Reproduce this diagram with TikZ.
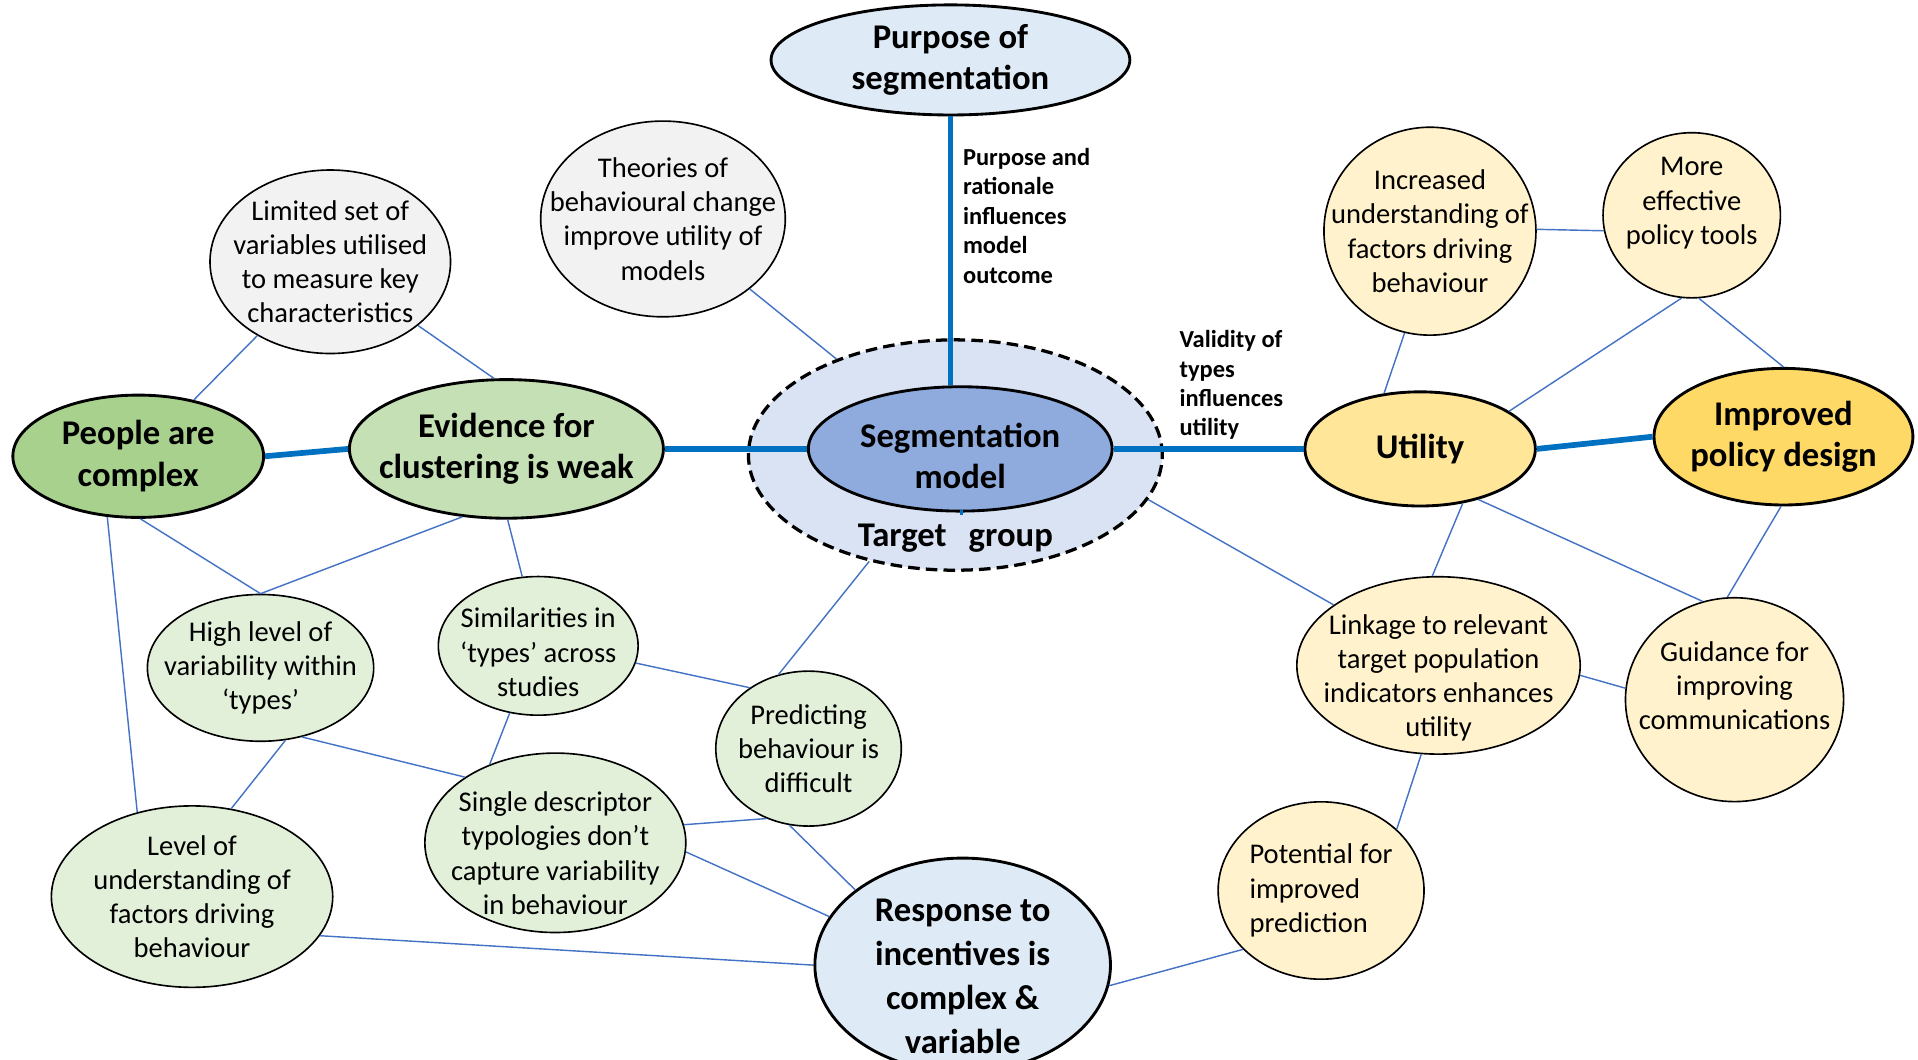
\documentclass[tikz,border=0pt]{standalone}
\usepackage{fontspec}
\setmainfont{Carlito}
\usepackage{tikz}
\usetikzlibrary{shapes.geometric}

\definecolor{linkdark}{HTML}{0070C0}
\definecolor{linklight}{HTML}{4472C4}
\definecolor{paleblue}{HTML}{DEEBF7}
\definecolor{targetblue}{HTML}{DAE3F3}
\definecolor{modelblue}{HTML}{8FAADC}
\definecolor{palegrey}{HTML}{F2F2F2}
\definecolor{darkgreen}{HTML}{A9D18E}
\definecolor{midgreen}{HTML}{C5E0B4}
\definecolor{palegreen}{HTML}{E2F0D9}
\definecolor{midyellow}{HTML}{FFE699}
\definecolor{darkyellow}{HTML}{FFD966}
\definecolor{paleyellow}{HTML}{FFF2CC}

\begin{document}
\begin{tikzpicture}[x=0.6pt, y=-0.6pt]
    % Styles
    \tikzstyle{bubble} = [ellipse, draw=black, line width=0.8pt, inner sep=-45pt, align=center, font=\fontsize{14}{16.8}\selectfont]
    \tikzstyle{keynode} = [ellipse, draw=black, line width=1.4pt, inner sep=-45pt, align=center, font=\fontsize{17}{20.4}\selectfont\bfseries]
    \tikzstyle{thicklink} = [draw=linkdark, line width=2.8pt]
    \tikzstyle{thinlink} = [draw=linklight, line width=0.7pt]
    \tikzstyle{note} = [anchor=north west, inner sep=0pt, align=left, font=\fontsize{12}{14.4}\selectfont\bfseries]

    \useasboundingbox (0,0) rectangle (1568,866);
    \clip (0,0) rectangle (1568,866);

    % Centre
    \node[keynode, fill=paleblue, minimum width=176pt, minimum height=54pt] (purpose) at (777,49) {Purpose of\\segmentation};
    \node[keynode, fill=targetblue, line width=1.6pt, dash pattern=on 5.7pt off 3pt, minimum width=203pt, minimum height=113pt] (target) at (781,372) {};
    \node[inner sep=0pt, font=\fontsize{17}{20.4}\selectfont\bfseries] (targettxt) at (781,440) {Target\hspace{7pt} group};
    \node[keynode, fill=modelblue, minimum width=149pt, minimum height=61pt] (segm) at (785,367) {\rule{0pt}{19pt}Segmentation\\model};
    \node[keynode, fill=paleblue, font=\fontsize{17}{21.6}\selectfont\bfseries, minimum width=145pt, minimum height=105pt] (response) at (787,789) {\rule{0pt}{22pt}Response to\\incentives is\\complex \&\\variable};

    % Left side
    \node[bubble, fill=palegrey, minimum width=120pt, minimum height=96pt] (theories) at (542,179) {Theories of\\behavioural change\\improve utility of\\models};
    \node[bubble, fill=palegrey, minimum width=118pt, minimum height=90pt] (limited) at (270,214) {Limited set of\\variables utilised\\to measure key\\characteristics};
    \node[keynode, fill=darkgreen, minimum width=123pt, minimum height=60pt] (people) at (113,373) {People are\\complex};
    \node[keynode, fill=midgreen, minimum width=154pt, minimum height=68pt] (evidence) at (414,367) {Evidence for\\clustering is weak};
    \node[bubble, fill=palegreen, minimum width=111pt, minimum height=72pt] (highlevel) at (213,546) {High level of\\variability within\\‘types’};
    \node[bubble, fill=palegreen, minimum width=98pt, minimum height=68pt] (similar) at (440,528) {\rule{0pt}{16pt}Similarities in\\‘types’ across\\studies};
    \node[bubble, fill=palegreen, minimum width=91pt, minimum height=76pt] (predict) at (661,612) {Predicting\\behaviour is\\difficult};
    \node[bubble, fill=palegreen, minimum width=128pt, minimum height=88pt] (single) at (454,689) {\rule{0pt}{20pt}Single descriptor\\typologies don’t\\capture variability\\in behaviour};
    \node[bubble, fill=palegreen, minimum width=138pt, minimum height=89pt] (levelund) at (157,733) {Level of\\understanding of\\factors driving\\behaviour};

    % Right side
    \node[keynode, fill=midyellow, minimum width=113pt, minimum height=56pt] (utility) at (1161,367) {Utility};
    \node[keynode, fill=darkyellow, minimum width=127pt, minimum height=67pt] (improved) at (1458,357) {Improved\\policy design};
    \node[bubble, fill=paleyellow, minimum width=104pt, minimum height=102pt] (increased) at (1169,189) {Increased\\understanding of\\factors driving\\behaviour};
    \node[bubble, fill=paleyellow, minimum width=87pt, minimum height=81pt] (moreeff) at (1383,176) {More\\effective\\policy tools\rule[-14pt]{0pt}{14pt}};
    \node[bubble, fill=paleyellow, minimum width=139pt, minimum height=87pt] (linkage) at (1176,544) {\rule{0pt}{22pt}Linkage to relevant\\target population\\indicators enhances\\utility};
    \node[bubble, fill=paleyellow, minimum width=107pt, minimum height=100pt] (guidance) at (1418,572) {Guidance for\\improving\\communications\rule[-14pt]{0pt}{14pt}};
    \node[bubble, fill=paleyellow, align=left, minimum width=101pt, minimum height=87pt] (potential) at (1080,728) {Potential for\\improved\\prediction};

    % Notes
    \node[note] (purposenote) at (787,121) {Purpose and\\rationale\\influences\\model\\outcome};
    \node[note] (validitynote) at (964,270) {Validity of\\types\\influences\\utility};

    % Thick links
    \draw[thicklink] (purpose.south) -- (purpose.south |- segm.north);
    \draw[thicklink] (segm.south) -- (segm.south -| response.north);
    \draw[thicklink] (people.east) -- (evidence.west);
    \draw[thicklink] (evidence.east) -- (segm.west);
    \draw[thicklink] (segm.east) -- (utility.west);
    \draw[thicklink] (utility.east) -- (improved.west);

    % Thin links
    \draw[thinlink] (theories) -- (target);
    \draw[thinlink] (limited) -- (people);
    \draw[thinlink] (limited.-36) -- (evidence.100);
    \draw[thinlink] (people.-88) -- (highlevel.90);
    \draw[thinlink] (evidence.-123) -- (highlevel.90);
    \draw[thinlink] (evidence.-89) -- (similar.103);
    \draw[thinlink] (people.-117) -- (levelund.123);
    \draw[thinlink] (highlevel.-71) -- (levelund.66);
    \draw[thinlink] (highlevel.-59) -- (single.144);
    \draw[thinlink] (similar.-113) -- (single.130);
    \draw[thinlink] (similar.-10) -- (predict.134);
    \draw[thinlink] (target.-129) -- (predict.112);
    \draw[thinlink] (single.8) -- (predict.-121);
    \draw[thinlink] (single.-4) -- (response.160);
    \draw[thinlink] (predict.-104) -- (response.145);
    \draw[thinlink] (levelund.-17) -- (response.180);
    \draw[thinlink] (target.-13) -- (linkage.150);
    \draw[thinlink] (utility.-52) -- (linkage.94);
    \draw[thinlink] (utility.-41) -- (guidance.108);
    \draw[thinlink] (improved.-92) -- (guidance.94);
    \draw[thinlink] (linkage.-4) -- (guidance.174);
    \draw[thinlink] (linkage.-101) -- (potential.39);
    \draw[thinlink] (potential.-143) -- (response.-8);
    \draw[thinlink] (increased.-104) -- (utility.123);
    \draw[thinlink] (increased.1) -- (moreeff.190);
    \draw[thinlink] (moreeff.-97) -- (utility.23);
    \draw[thinlink] (moreeff.-85) -- (improved.90);
\end{tikzpicture}
\end{document}
